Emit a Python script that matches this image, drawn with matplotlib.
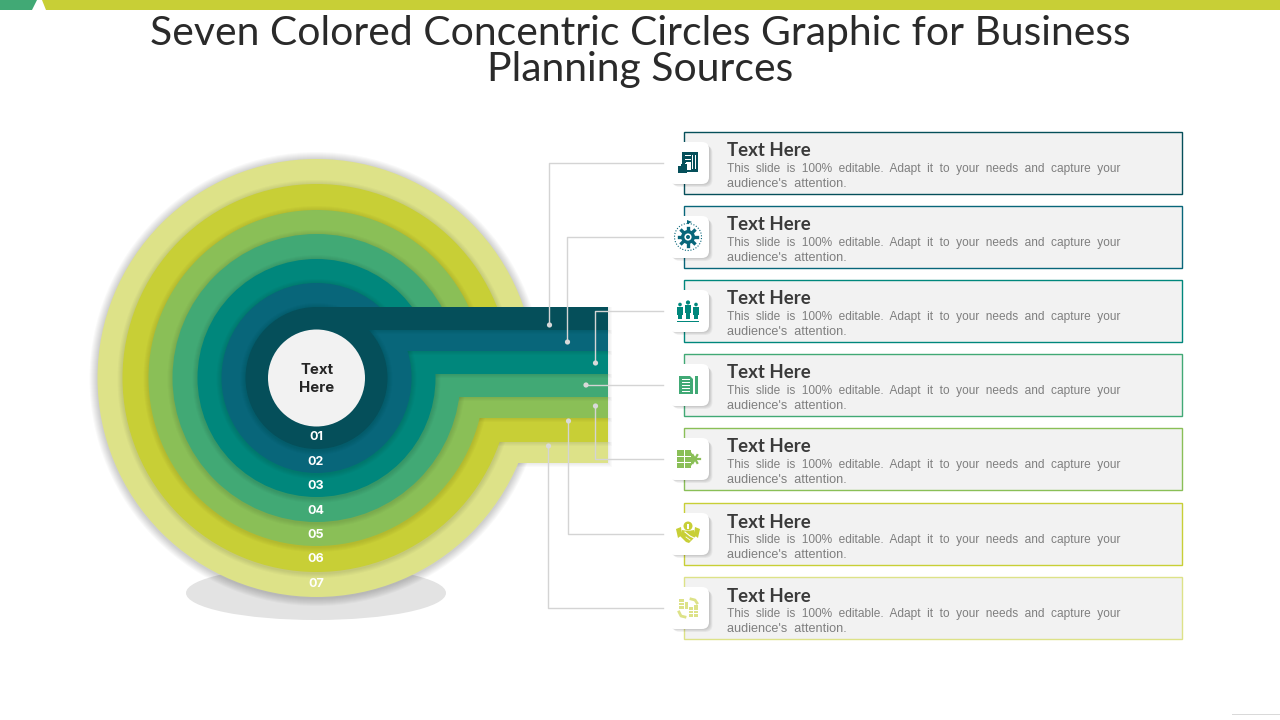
import matplotlib
matplotlib.use('Agg')
import numpy as np
import matplotlib.pyplot as plt
from matplotlib.patches import Circle, Ellipse, Rectangle, FancyBboxPatch, Polygon

title_lines = ['Seven Colored Concentric Circles Graphic for Business', 'Planning Sources']
ring_labels = ['01', '02', '03', '04', '05', '06', '07']
center_label = 'Text\nHere'
card_title = 'Text Here'
card_line1 = 'This  slide  is  100%  editable.  Adapt  it  to  your  needs  and  capture  your'
card_line2 = "audience's  attention."
ring_colors = ['#054f5a', '#08667a', '#00877c', '#41a975', '#8abf57', '#c8cf36', '#dde288']

# layout, in picture pixels
cx, cy = 316.5, 378
ring_radius = [71, 95, 119, 144, 168, 194, 219]
label_y = [437, 462, 486, 511, 535, 559, 584]
band_edges = [307, 330, 351, 374, 397, 418, 442, 463]
band_right = 608
card_top = [132, 206, 280, 354, 428, 503, 577]
tile_y = [163, 237, 311, 385, 459, 534, 608]
line_x = [549, 567, 595, None, 595, 568, 548]
dot_x = [549.5, 567.5, 595.5, 586, 595.5, 568.5, 548.5]
dot_y = [325, 342, 363, 385, 406, 421, 446]

px = 0.72  # font size in points for one pixel at dpi 100

fig = plt.figure(figsize=(12.8, 7.2), dpi=100)
ax = fig.add_axes([0, 0, 1, 1])
ax.set_xlim(0, 1280)
ax.set_ylim(720, 0)
ax.axis('off')


def rect(x0, y0, x1, y1, color, z=1, **kw):
    ax.add_patch(Rectangle((x0, y0), x1 - x0, y1 - y0, facecolor=color, edgecolor='none', zorder=z, **kw))


def circle_shadow(r, z, strength=0.02, size=6, dy=1):
    for i in range(size, 0, -1):
        ax.add_patch(Circle((cx, cy + dy), r + i, facecolor='black', edgecolor='none', alpha=strength, zorder=z))


def band_shadow(y0, y1, z, strength=0.02, size=4):
    for i in range(size, 0, -1):
        rect(cx, y0, band_right + i, y1 + i, 'black', z, alpha=strength)


def icon_report(x, y, c, z):
    rect(x - 6, y - 10, x + 10, y + 10, c, z)
    for i in range(3):
        rect(x - 3, y - 7 + i * 4, x + 3, y - 6 + i * 4, 'white', z + 0.1)
    rect(x + 4, y - 7, x + 5, y + 7, 'white', z + 0.1)
    rect(x + 7, y - 7, x + 8, y + 7, 'white', z + 0.1)
    rect(x - 2, y, x + 3, y + 8, 'white', z + 0.1)
    rect(x - 10, y + 4, x - 7, y + 11, c, z + 0.2)
    rect(x - 7, y + 2, x - 1, y + 11, c, z + 0.2)


def icon_gear(x, y, c, z):
    ax.add_patch(Circle((x, y), 13.5, facecolor='none', edgecolor=c, lw=0.8, ls=(0, (1, 1.5)), zorder=z))
    for a in np.arange(0, 360, 45):
        t = np.deg2rad(a)
        ax.plot([x + 5 * np.cos(t), x + 9 * np.cos(t)], [y + 5 * np.sin(t), y + 9 * np.sin(t)], color=c, lw=2.4, zorder=z)
    ax.add_patch(Circle((x, y), 7, facecolor=c, edgecolor='none', zorder=z))
    ax.add_patch(Circle((x, y), 3.6, facecolor='white', edgecolor='none', zorder=z + 0.1))
    ax.add_patch(Circle((x, y), 2, facecolor=c, edgecolor='none', zorder=z + 0.2))
    ax.add_patch(Polygon([(x - 1, y - 17), (x + 4, y - 15), (x - 1, y - 13)], facecolor=c, edgecolor='none', zorder=z))


def icon_people(x, y, c, z):
    for dx, top, w in [(-8, -4, 2.6), (8, -4, 2.6), (0, -6, 3)]:
        ax.add_patch(Circle((x + dx, y + top - 2.5), w * 0.7, facecolor=c, edgecolor='none', zorder=z))
        rect(x + dx - w, y + top, x + dx + w, y + top + 8, c, z)
        rect(x + dx - w * 0.6, y + top + 8, x + dx - 0.4, y + 8, c, z)
        rect(x + dx + 0.4, y + top + 8, x + dx + w * 0.6, y + 8, c, z)
    rect(x - 11, y + 9.5, x + 11, y + 10.5, c, z)


def icon_doc(x, y, c, z):
    ax.add_patch(Polygon([(x - 9, y - 9), (x + 2, y - 9), (x + 5, y - 6), (x + 5, y + 9), (x - 9, y + 9)], facecolor=c, edgecolor='none', zorder=z))
    for i in range(5):
        rect(x - 6, y - 6 + i * 3, x + 2, y - 5.2 + i * 3, 'white', z + 0.1)
    rect(x + 7, y - 9, x + 9.5, y + 9, c, z)


def icon_blocks(x, y, c, z):
    rect(x - 11, y - 9, x + 3, y + 9, c, z)
    rect(x - 11, y - 3.5, x + 3, y - 2.5, 'white', z + 0.1)
    rect(x - 11, y + 2.5, x + 3, y + 3.5, 'white', z + 0.1)
    rect(x - 4, y - 9, x - 3, y + 9, 'white', z + 0.1)
    ax.add_patch(Polygon([(x + 3, y - 7), (x + 8, y), (x + 3, y + 7)], facecolor=c, edgecolor='none', zorder=z))
    for a in np.arange(0, 360, 60):
        t = np.deg2rad(a)
        ax.plot([x + 7, x + 7 + 4.5 * np.cos(t)], [y, y + 4.5 * np.sin(t)], color=c, lw=1.6, zorder=z)


def icon_deal(x, y, c, z):
    ax.add_patch(Circle((x, y - 8), 4.5, facecolor=c, edgecolor='none', zorder=z))
    rect(x - 0.7, y - 10.5, x + 0.7, y - 5.5, 'white', z + 0.1)
    ax.add_patch(Polygon([(x - 12, y - 5), (x - 7, y - 7), (x - 6, y + 1), (x - 10, y + 4)], facecolor=c, edgecolor='none', zorder=z))
    ax.add_patch(Polygon([(x + 12, y - 5), (x + 7, y - 7), (x + 6, y + 1), (x + 10, y + 4)], facecolor=c, edgecolor='none', zorder=z))
    ax.add_patch(Polygon([(x - 6, y - 4), (x, y - 3), (x + 6, y - 4), (x + 8, y + 2), (x + 1, y + 9), (x - 2, y + 8), (x - 8, y + 2)], facecolor=c, edgecolor='none', zorder=z))
    ax.plot([x - 3, x + 2, x + 6], [y - 2, y + 2, y + 4], color='white', lw=0.8, zorder=z + 0.1)
    ax.plot([x - 2, x + 2], [y + 3, y + 6], color='white', lw=0.6, zorder=z + 0.1)


def icon_trade(x, y, c, z):
    rect(x - 9, y - 9, x - 4, y + 1, c, z)
    rect(x - 3, y - 6, x + 0, y + 1, c, z)
    rect(x + 1, y - 1, x + 5, y + 9, c, z)
    rect(x + 6, y - 3, x + 10, y + 9, c, z)
    for yy in (-6, -3):
        rect(x - 9, y + yy, x - 4, y + yy + 0.8, 'white', z + 0.1)
    for yy in (2, 5):
        rect(x + 1, y + yy, x + 10, y + yy + 0.8, 'white', z + 0.1)
    ax.plot([x + 3, x + 7, x + 9], [y - 9, y - 8, y - 5], color=c, lw=2, zorder=z)
    ax.plot([x - 9, x - 7, x - 3], [y + 4, y + 8, y + 9], color=c, lw=2, zorder=z)


icons = [icon_report, icon_gear, icon_people, icon_doc, icon_blocks, icon_deal, icon_trade]

# top bar with the little notch
ax.add_patch(Polygon([(0, 0), (37, 0), (32, 10), (0, 10)], facecolor='#41a975', edgecolor='none', zorder=1))
ax.add_patch(Polygon([(42, 0), (1280, 0), (1280, 10), (46, 10)], facecolor='#c8cf36', edgecolor='none', zorder=1))
rect(1232, 713.5, 1280, 714.5, '#d9d9d9', 1)

for i, line in enumerate(title_lines):
    ax.text(640, 33 + i * 36, line, ha='center', va='center', fontsize=40.9 * px, family='Lato', color='#2a2a2a', zorder=2)

# floor shadow
ax.add_patch(Ellipse((316, 593), 260, 54, facecolor='#e3e3e3', edgecolor='none', zorder=2))

# rings, outer one first so the inner ones sit on top
z = 3
for k in range(6, -1, -1):
    circle_shadow(ring_radius[k], z, strength=0.018 if k < 6 else 0.022, size=5 if k < 6 else 8)
    band_shadow(band_edges[k], band_edges[k + 1], z + 0.1)
    ax.add_patch(Circle((cx, cy), ring_radius[k], facecolor=ring_colors[k], edgecolor='none', zorder=z + 0.2))
    rect(cx, band_edges[k], band_right, band_edges[k + 1], ring_colors[k], z + 0.2)
    z += 1

ax.add_patch(Circle((cx, cy), 48.5, facecolor='#f2f2f2', edgecolor='none', zorder=z))
ax.text(cx + 0.5, 379, center_label, ha='center', va='center', fontsize=15 * px, family='Inter', weight='bold',
        color='#262626', linespacing=1.35, zorder=z + 1)
for lab, y in zip(ring_labels, label_y):
    ax.text(cx - 0.5, y, lab, ha='center', va='center', fontsize=12.5 * px, family='Inter', weight='bold', color='white', zorder=z + 1)

# connector lines and dots
z += 2
for k in range(7):
    if line_x[k] is None:
        ax.plot([dot_x[k], 663], [tile_y[k], tile_y[k]], color='#d4d4d4', lw=1, zorder=z)
    else:
        ax.plot([663, line_x[k], line_x[k]], [tile_y[k], tile_y[k], dot_y[k]], color='#d4d4d4', lw=1, zorder=z)
    ax.add_patch(Circle((dot_x[k], dot_y[k]), 2.6, facecolor='#d9d9d9', edgecolor='none', zorder=z))

# cards on the right
z += 1
for k in range(7):
    top = card_top[k]
    ax.add_patch(Rectangle((684, top), 498, 62, facecolor='#f2f2f2', edgecolor=ring_colors[k], lw=1, zorder=z))
    for i in range(5, 0, -1):
        ax.add_patch(FancyBboxPatch((674 + i * 0.7, tile_y[k] - 15.5 + i * 0.7), 30, 31, boxstyle='round,pad=5,rounding_size=7',
                                    facecolor='black', edgecolor='none', alpha=0.04, zorder=z + 0.1))
    ax.add_patch(FancyBboxPatch((673, tile_y[k] - 16), 31, 32, boxstyle='round,pad=5,rounding_size=7',
                                facecolor='white', edgecolor='none', zorder=z + 0.2))
    icons[k](688, tile_y[k] - 1 if k == 0 else tile_y[k], ring_colors[k], z + 0.3)
    ax.text(727, top + 19, card_title, ha='left', va='center', fontsize=18.7 * px, family='Lato', weight='bold', color='#3a3a3a', zorder=z + 1)
    ax.text(727, top + 37, card_line1, ha='left', va='center', fontsize=11.9 * px, family='Liberation Sans', color='#7f7f7f', zorder=z + 1)
    ax.text(727, top + 52, card_line2, ha='left', va='center', fontsize=12.6 * px, family='Liberation Sans', color='#7f7f7f', zorder=z + 1)

fig.savefig('out.png', dpi=100)
